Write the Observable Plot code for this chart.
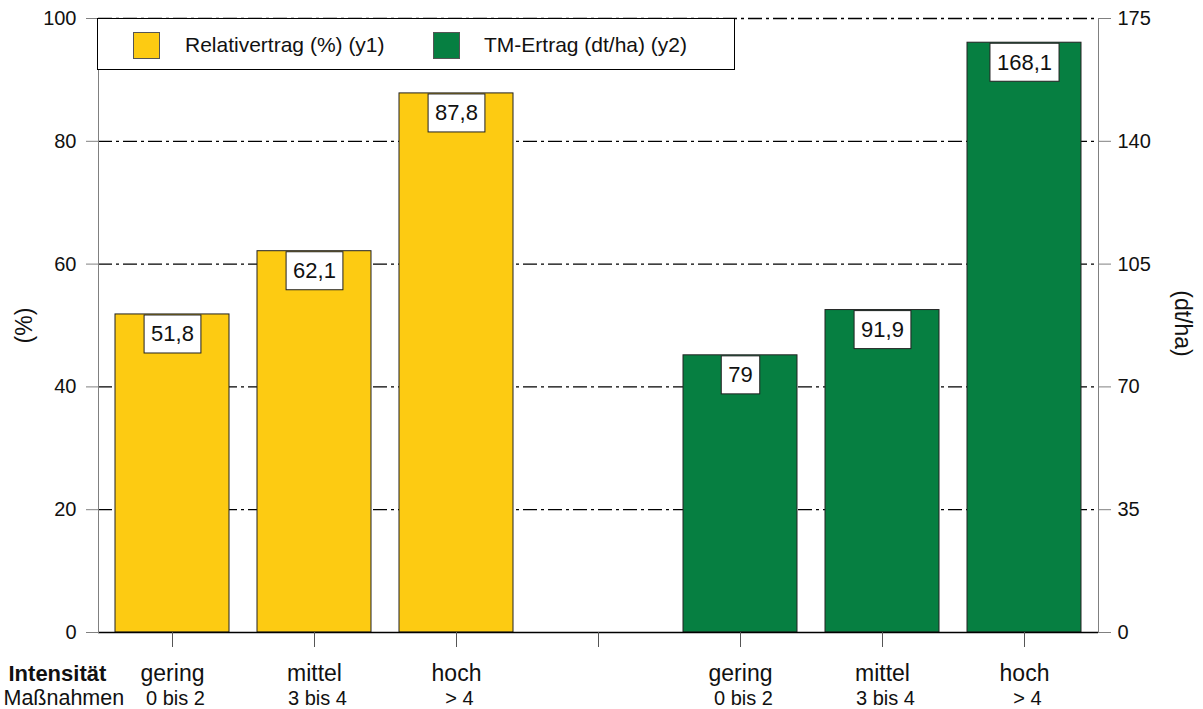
<!DOCTYPE html>
<html>
<head>
<meta charset="utf-8">
<script src="https://cdn.jsdelivr.net/npm/d3@7"></script>
<script src="https://cdn.jsdelivr.net/npm/@observablehq/plot@0.6"></script>
<style>
  html, body { margin: 0; padding: 0; background: #fff; }
  #wrap { position: relative; width: 1203px; height: 709px; font-family: "Liberation Sans", Arial, sans-serif; }
  #legend { position: absolute; left: 97px; top: 18px; width: 638px; height: 52px; background: #fff; border: 1px solid #000; box-sizing: border-box; }
  .sw { position: absolute; top: 13px; width: 27px; height: 27px; box-sizing: border-box; border: 1px solid #555; }
  .lt { position: absolute; top: 14px; font-size: 21px; line-height: 24px; color: #111; white-space: nowrap; }
</style>
</head>
<body>
<div id="wrap"></div>
<script>
// ---- data ----
const categories = ["gering", "mittel", "hoch"];
const measures = ["0 bis 2", "3 bis 4", "> 4"];
const relValues = [51.8, 62.1, 87.8];      // Relativertrag (%) (y1)
const tmValues = [79, 91.9, 168.1];        // TM-Ertrag (dt/ha) (y2)
const leftTicks = [0, 20, 40, 60, 80, 100];
const rightTicks = [0, 35, 70, 105, 140, 175];
const seriesNames = ["Relativertrag (%) (y1)", "TM-Ertrag (dt/ha) (y2)"];
const seriesColors = ["#FDCB12", "#067F41"];
const yTitleLeft = "(%)";
const yTitleRight = "(dt/ha)";
const rowTitles = ["Intensität", "Maßnahmen"];

const ratio = 175 / 100;
const rows = [];
categories.forEach((c, i) => rows.push({key: "rel" + i, cat: c, meas: measures[i], value: relValues[i], y: relValues[i], s: 0}));
categories.forEach((c, i) => rows.push({key: "tm" + i, cat: c, meas: measures[i], value: tmValues[i], y: tmValues[i] / ratio, s: 1}));
const domain = ["rel0", "rel1", "rel2", "gap", "tm0", "tm1", "tm2"];
const fmt = v => String(v).replace(".", ",");

const plot = Plot.plot({
  width: 1203,
  height: 709,
  marginLeft: 98,
  marginRight: 105,
  marginTop: 18,
  marginBottom: 77,
  style: {fontFamily: "'Liberation Sans', Arial, sans-serif", fontSize: "19px", color: "#111", background: "#fff"},
  x: {domain, paddingInner: 0.2, paddingOuter: 0.1, axis: null},
  y: {domain: [0, 100], axis: null},
  marks: [
    Plot.ruleY(leftTicks.filter(d => d > 0), {stroke: "#000", strokeWidth: 1.3, strokeDasharray: "14,4,3,4"}),
    Plot.barY(rows, {x: "key", y: "y", fill: d => seriesColors[d.s], stroke: "#222", strokeWidth: 1}),
    Plot.ruleY([0], {stroke: "#000", strokeWidth: 1.3}),
    Plot.axisY(leftTicks, {anchor: "left", tickSize: 12, tickPadding: 10, stroke: "#808080", fontSize: 20, label: null}),
    Plot.axisY(rightTicks.map(d => d / ratio), {anchor: "right", tickSize: 12, tickPadding: 7, stroke: "#808080", fontSize: 20, label: null, tickFormat: d => String(Math.round(d * ratio))}),
    Plot.axisX(domain, {tickSize: 15, stroke: "#555", tickFormat: () => "", label: null}),
    Plot.frame({anchor: "left", stroke: "#808080"}),
    Plot.frame({anchor: "right", stroke: "#808080"}),
    Plot.text(rows, {x: "key", y: "y", text: d => fmt(d.value), dy: 20, fontSize: 22, fill: "#111", lineAnchor: "middle", className: "vlab"}),
    Plot.text(rows, {x: "key", y: 0, text: "cat", dy: 41, fontSize: 23, fill: "#111", lineAnchor: "middle"}),
    Plot.text(rows, {x: "key", y: 0, text: "meas", dy: 66, dx: 3, fontSize: 20, fill: "#111", lineAnchor: "middle"}),
    Plot.text([rowTitles[0]], {frameAnchor: "bottom-left", dx: -90, dy: 41, textAnchor: "start", fontSize: 22, fontWeight: "bold", fill: "#111", lineAnchor: "middle"}),
    Plot.text([rowTitles[1]], {frameAnchor: "bottom-left", dx: -95, dy: 66, textAnchor: "start", fontSize: 21.5, fill: "#111", lineAnchor: "middle"}),
    Plot.text([yTitleLeft], {frameAnchor: "left", dx: -74, textAnchor: "middle", rotate: -90, fontSize: 23, fill: "#111"}),
    Plot.text([yTitleRight], {frameAnchor: "right", dx: 84, dy: -2, textAnchor: "middle", rotate: 90, fontSize: 23, fill: "#111"})
  ]
});

const wrap = document.getElementById("wrap");
wrap.appendChild(plot);

// white label boxes behind the value labels
plot.querySelectorAll(".vlab text").forEach(t => {
  const b = t.getBBox();
  const r = document.createElementNS("http://www.w3.org/2000/svg", "rect");
  const w = b.width + 14, h = 38;
  const cy = b.y + b.height / 2;
  r.setAttribute("x", b.x - 7);
  r.setAttribute("y", cy - h / 2);
  r.setAttribute("width", w);
  r.setAttribute("height", h);
  r.setAttribute("fill", "#fff");
  r.setAttribute("stroke", "#222");
  r.setAttribute("stroke-width", "1");
  const tr = t.getAttribute("transform");
  if (tr) r.setAttribute("transform", tr);
  t.parentNode.insertBefore(r, t);
});

// legend (inside the plot area, over the top gridline)
const legend = document.createElement("div");
legend.id = "legend";
const swLeft = [35, 335], txLeft = [87, 386];
seriesNames.forEach((n, i) => {
  const sw = document.createElement("div");
  sw.className = "sw";
  sw.style.left = swLeft[i] + "px";
  sw.style.background = seriesColors[i];
  legend.appendChild(sw);
  const tx = document.createElement("div");
  tx.className = "lt";
  tx.style.left = txLeft[i] + "px";
  tx.textContent = n;
  legend.appendChild(tx);
});
wrap.appendChild(legend);
</script>
</body>
</html>
